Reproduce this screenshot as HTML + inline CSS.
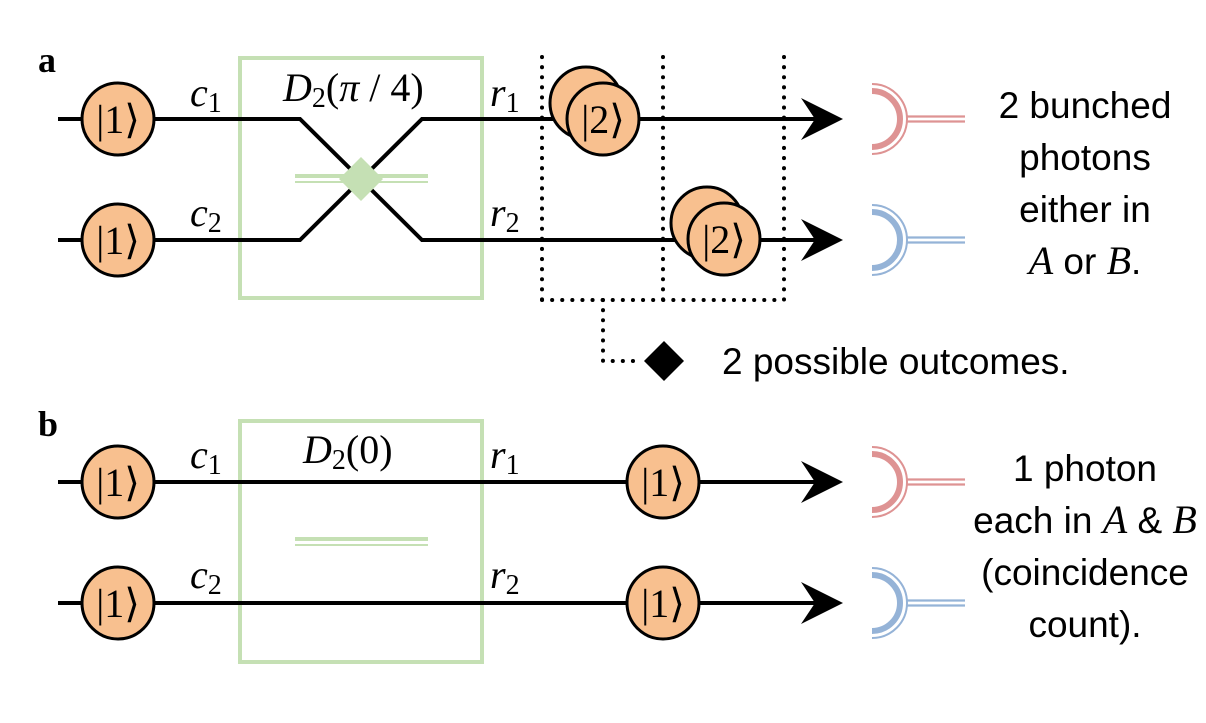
<!DOCTYPE html>
<html><head><meta charset="utf-8"><style>
html,body{margin:0;padding:0;background:#fff;}
svg{display:block;}
.m{font-family:"Liberation Serif",serif;font-style:italic;font-size:40px;}
.k{font-family:"Liberation Serif",serif;font-size:40px;}
.t{font-family:"Liberation Sans",sans-serif;font-size:37px;}
</style></head><body>
<svg width="1206" height="723" viewBox="0 0 1206 723" xmlns="http://www.w3.org/2000/svg">
<defs>
<g id="det">
  <path d="M0,-28 A28,28 0 0 1 0,28" fill="none" stroke="currentColor" stroke-width="6"/>
  <path d="M0,-35 A35,35 0 0 1 0,35" fill="none" stroke="currentColor" stroke-width="2"/>
  <line x1="34" y1="-2.5" x2="93" y2="-2.5" stroke="currentColor" stroke-width="2.2"/>
  <line x1="34" y1="2.5" x2="93" y2="2.5" stroke="currentColor" stroke-width="2.2"/>
</g>
<g id="arr"><path d="M-42,-21 L0,0 L-42,21 L-28,0 Z" fill="#000"/></g>
</defs>

<text x="38" y="72" font-family="Liberation Serif,serif" font-weight="bold" font-size="36">a</text>
<text x="38" y="436" font-family="Liberation Serif,serif" font-weight="bold" font-size="36">b</text>

<!-- part a -->
<rect x="240" y="58" width="242" height="240" fill="none" stroke="#c5e0b4" stroke-width="4"/>
<line x1="295" y1="176" x2="428" y2="176" stroke="#c5e0b4" stroke-width="4"/>
<line x1="295" y1="182" x2="428" y2="182" stroke="#c5e0b4" stroke-width="2"/>
<g stroke="#000" stroke-width="4" fill="none">
<polyline points="58,119 300,119 422,240 820,240"/>
<polyline points="58,240 300,240 422,119 820,119"/>
</g>
<path d="M361,157 L383,179 L361,201 L339,179 Z" fill="#c5e0b4"/>
<use href="#arr" x="843" y="119"/><use href="#arr" x="843" y="240"/>

<g stroke="#000" stroke-width="3" fill="#f8c08f">
<circle cx="118" cy="119" r="36"/><circle cx="118" cy="240" r="36"/>
<circle cx="586" cy="103" r="36"/><circle cx="603" cy="119" r="36"/>
<circle cx="707" cy="223" r="36"/><circle cx="724" cy="239" r="36"/>
</g>
<g class="k" text-anchor="middle">
<text x="118" y="133">|1⟩</text><text x="118" y="254">|1⟩</text>
<text x="603" y="133">|2⟩</text><text x="724" y="253">|2⟩</text>
</g>
<text class="m" x="190" y="106">c<tspan font-style="normal" font-size="28" dy="6">1</tspan></text>
<text class="m" x="190" y="226">c<tspan font-style="normal" font-size="28" dy="6">2</tspan></text>
<text class="m" x="490" y="106">r<tspan font-style="normal" font-size="28" dy="6">1</tspan></text>
<text class="m" x="490" y="226">r<tspan font-style="normal" font-size="28" dy="6">2</tspan></text>
<text class="m" x="283" y="101">D<tspan font-style="normal" font-size="28" dy="6">2</tspan><tspan font-style="normal" dy="-6">(</tspan>π<tspan font-style="normal"> / 4)</tspan></text>

<g stroke="#000" stroke-width="4" stroke-dasharray="0.1 10" stroke-linecap="round" fill="none">
<line x1="542" y1="57" x2="542" y2="300"/>
<line x1="663" y1="57" x2="663" y2="300"/>
<line x1="784" y1="57" x2="784" y2="300"/>
<line x1="542" y1="300" x2="784" y2="300"/>
<polyline points="603,300 603,361 642,361"/>
</g>
<path d="M664,341 L684,361 L664,381 L644,361 Z" fill="#000"/>
<text class="t" x="722" y="374">2 possible outcomes.</text>

<g style="color:#de9393"><use href="#det" x="872" y="119"/><use href="#det" x="872" y="482"/></g>
<g style="color:#95b3d7"><use href="#det" x="872" y="240"/><use href="#det" x="872" y="603"/></g>

<g class="t" text-anchor="middle">
<text x="1085" y="118">2 bunched</text>
<text x="1085" y="170">photons</text>
<text x="1085" y="222">either in</text>
<text x="1085" y="274"><tspan class="m">A</tspan> or <tspan class="m">B</tspan>.</text>
<text x="1085" y="481">1 photon</text>
<text x="1085" y="533">each in <tspan class="m">A</tspan> &amp; <tspan class="m">B</tspan></text>
<text x="1085" y="585">(coincidence</text>
<text x="1085" y="637">count).</text>
</g>

<!-- part b -->
<rect x="240" y="421" width="242" height="241" fill="none" stroke="#c5e0b4" stroke-width="4"/>
<line x1="295" y1="539" x2="428" y2="539" stroke="#c5e0b4" stroke-width="4"/>
<line x1="295" y1="545" x2="428" y2="545" stroke="#c5e0b4" stroke-width="2"/>
<g stroke="#000" stroke-width="4">
<line x1="58" y1="482" x2="820" y2="482"/>
<line x1="58" y1="603" x2="820" y2="603"/>
</g>
<use href="#arr" x="843" y="482"/><use href="#arr" x="843" y="603"/>
<g stroke="#000" stroke-width="3" fill="#f8c08f">
<circle cx="118" cy="482" r="36"/><circle cx="118" cy="603" r="36"/>
<circle cx="663" cy="482" r="36"/><circle cx="663" cy="603" r="36"/>
</g>
<g class="k" text-anchor="middle">
<text x="118" y="496">|1⟩</text><text x="118" y="617">|1⟩</text>
<text x="663" y="496">|1⟩</text><text x="663" y="617">|1⟩</text>
</g>
<text class="m" x="190" y="468">c<tspan font-style="normal" font-size="28" dy="6">1</tspan></text>
<text class="m" x="190" y="588">c<tspan font-style="normal" font-size="28" dy="6">2</tspan></text>
<text class="m" x="490" y="468">r<tspan font-style="normal" font-size="28" dy="6">1</tspan></text>
<text class="m" x="490" y="588">r<tspan font-style="normal" font-size="28" dy="6">2</tspan></text>
<text class="m" x="303" y="463">D<tspan font-style="normal" font-size="28" dy="6">2</tspan><tspan font-style="normal" dy="-6">(0)</tspan></text>
</svg>
</body></html>
